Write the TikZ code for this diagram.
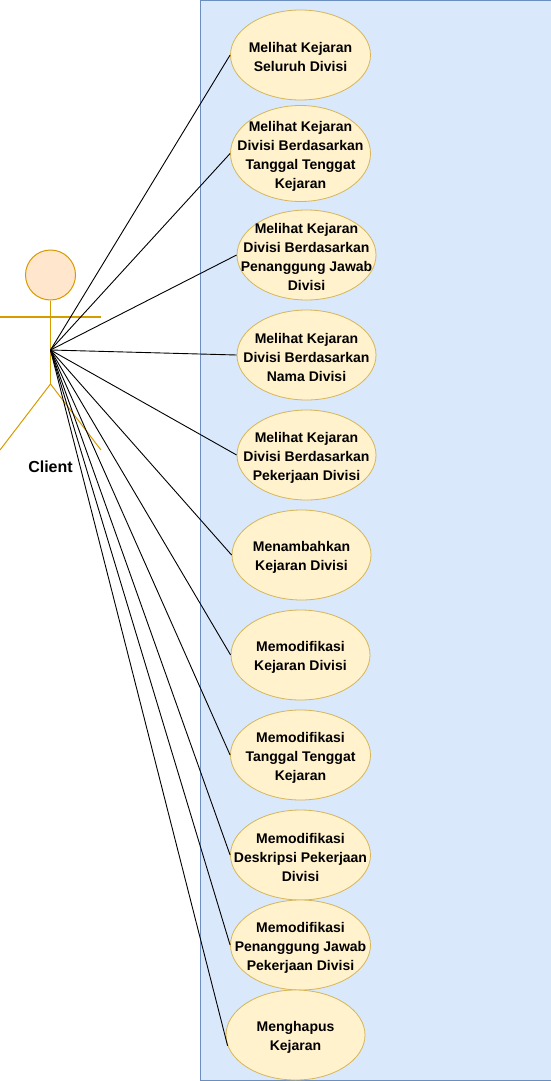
\documentclass[tikz,border=0pt]{standalone}
\usepackage{fontspec}
\setmainfont{Liberation Sans}
\usetikzlibrary{shapes.geometric}
\definecolor{panelfill}{HTML}{DAE8FC}
\definecolor{paneldraw}{HTML}{6C8EBF}
\definecolor{casefill}{HTML}{FFF2CC}
\definecolor{casedraw}{HTML}{D6B656}
\definecolor{actorfill}{HTML}{FFE6CC}
\definecolor{actordraw}{HTML}{D79B00}
\newcommand{\topgap}{\rule{0pt}{15pt}}
\tikzset{
  usecase/.style={ellipse,draw=casedraw,fill=casefill,line width=0.8pt,minimum width=140pt,minimum height=90pt,inner xsep=-45pt,inner ysep=-25pt,align=center,font=\bfseries\fontsize{14}{19}\selectfont,text=black},
  limb/.style={draw=actordraw,line width=1pt},
  link/.style={draw=black,line width=0.9pt}
}
\begin{document}
\begin{tikzpicture}[x=1pt,y=-1pt]
\useasboundingbox (0,0) rectangle (551,1081);
\node[draw=paneldraw,fill=panelfill,line width=0.9pt,minimum width=350.8pt,minimum height=1079.5pt,inner sep=0pt,anchor=north west] (panel) at (200.2,0.5) {};
\node[usecase] (u1) at (300.5,55) {\topgap Melihat Kejaran\\Seluruh Divisi};
\node[usecase,minimum height=96pt] (u2) at (300.5,153.5) {\topgap Melihat Kejaran\\Divisi Berdasarkan\\Tanggal Tenggat\\Kejaran};
\node[usecase,minimum width=139pt] (u3) at (306.5,255) {\topgap Melihat Kejaran\\Divisi Berdasarkan\\Penanggung Jawab\\Divisi};
\node[usecase,minimum width=139pt] (u4) at (306.5,355) {\topgap Melihat Kejaran\\Divisi Berdasarkan\\Nama Divisi};
\node[usecase,minimum width=139pt] (u5) at (306.5,455) {\topgap Melihat Kejaran\\Divisi Berdasarkan\\Pekerjaan Divisi};
\node[usecase,minimum width=139pt] (u6) at (301.5,555) {\topgap Menambahkan\\Kejaran Divisi};
\node[usecase,minimum width=139pt] (u7) at (300.5,655) {\topgap Memodifikasi\\Kejaran Divisi};
\node[usecase] (u8) at (300.5,755) {\topgap Memodifikasi\\Tanggal Tenggat\\Kejaran};
\node[usecase] (u9) at (300.5,855) {\topgap Memodifikasi\\Deskripsi Pekerjaan\\Divisi};
\node[usecase] (u10) at (300.5,945) {\topgap Memodifikasi\\Penanggung Jawab\\Pekerjaan Divisi};
\node[usecase,minimum width=139pt] (u11) at (295.5,1035) {\topgap Menghapus\\Kejaran};
% actor
\node[circle,draw=actordraw,fill=actorfill,line width=1pt,minimum size=50pt,inner sep=0pt] (head) at (50.5,275) {};
\coordinate (actor) at (50.5,350);
\coordinate (hip) at (50.5,384);
\coordinate (armL) at (0,317);
\coordinate (armR) at (101,317);
\coordinate (legL) at (0,450);
\coordinate (legR) at (101,450);
\draw[limb] (head.south) -- (hip);
\draw[limb,line width=1.4pt] (armL) -- (armR);
\draw[limb] (legL) -- (hip) -- (legR);
\node[font=\bfseries\fontsize{16}{19}\selectfont,text=black,inner sep=0pt] (client) at (50.5,467) {Client};
% links
\foreach \n in {1,...,10}{\draw[link] (actor) -- (u\n.west);}
\draw[link] (actor) -- (u11.189);
\end{tikzpicture}
\end{document}
